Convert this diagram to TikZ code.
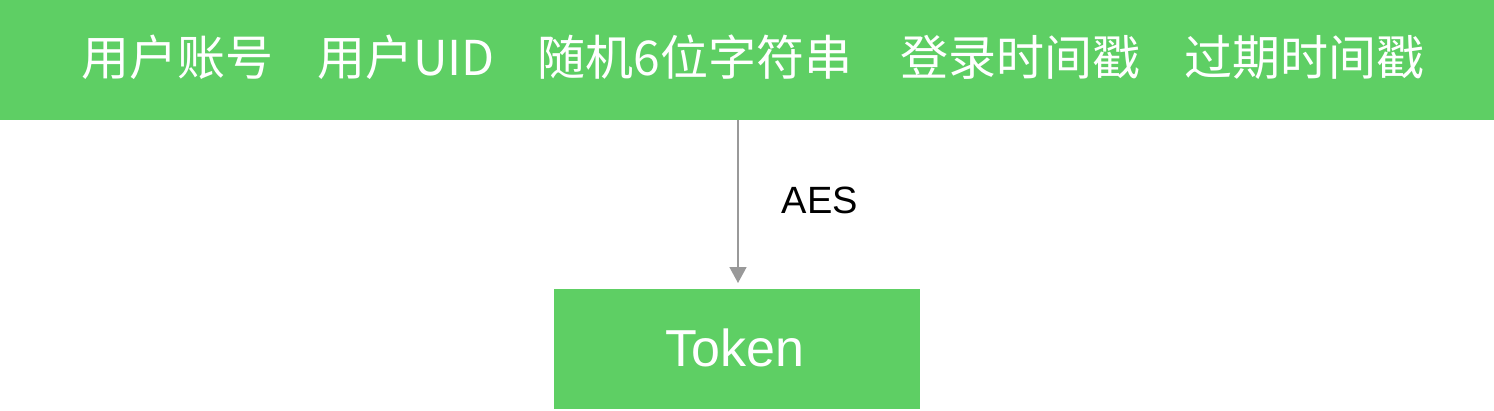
\documentclass[tikz,border=0pt]{standalone}
\usepackage{fontspec}
\setmainfont{Liberation Sans}
\newfontfamily\cjk{Noto Sans CJK SC}
\usetikzlibrary{arrows.meta}
\definecolor{grn}{HTML}{5ECF64}
\definecolor{arr}{HTML}{999999}
\tikzset{
  toptext/.style={text=white, font=\cjk\fontsize{48}{54}\selectfont, inner sep=0pt, anchor=center},
  conn/.style={draw=arr, line width=1.5pt, -{Triangle[width=17pt,length=16pt]}},
}
\begin{document}
\begin{tikzpicture}[x=1pt,y=-1pt]
\useasboundingbox (0,0) rectangle (1494,410);
\node[fill=grn, minimum width=1494pt, minimum height=120pt, inner sep=0pt, anchor=north west] (bar) at (0,0) {};
\node[toptext] (t1) at (177,57) {用户账号};
\node[toptext] (t2) at (406,57) {用户UID};
\node[toptext] (t3) at (695,57) {随机6位字符串};
\node[toptext] (t4) at (1020,57) {登录时间戳};
\node[toptext] (t5) at (1304,57) {过期时间戳};
\node[fill=grn, minimum width=366pt, minimum height=120pt, inner sep=0pt, anchor=north west] (tok) at (554,289) {};
\node[text=white, font=\fontsize{52}{58}\selectfont, inner sep=0pt] (toklbl) at (735,348) {Token};
\coordinate (top) at (738,120);
\coordinate (tip) at (738,283);
\draw[conn] (top) -- (tip);
\node[font=\fontsize{38}{44}\selectfont, inner sep=0pt] (aes) at (820,200) {AES};
\end{tikzpicture}
\end{document}
